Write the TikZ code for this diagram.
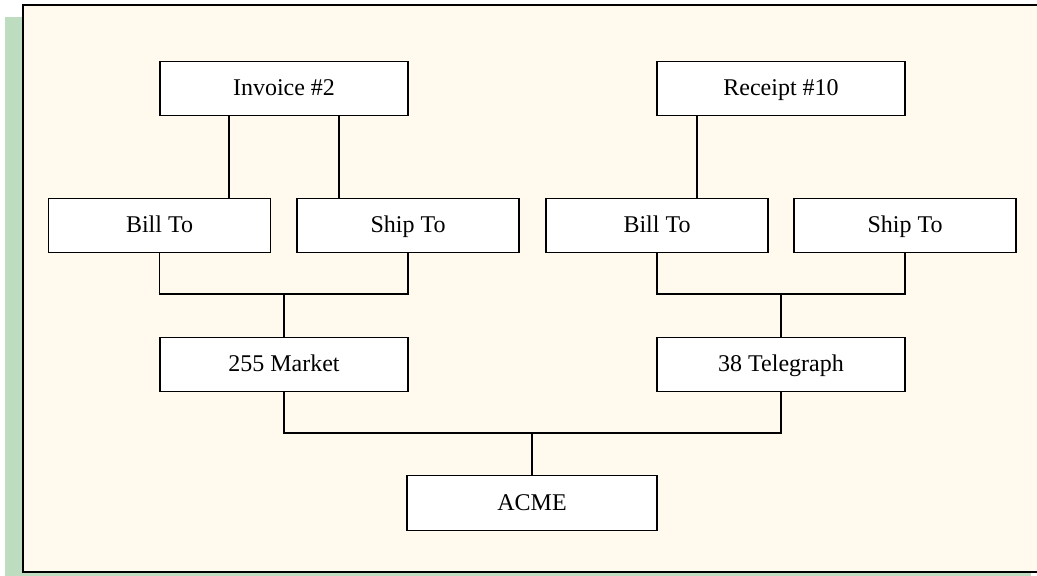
\documentclass[tikz,border=0pt]{standalone}
\usepackage{fontspec}
\setmainfont{Liberation Serif}
\usetikzlibrary{positioning,calc}
\definecolor{panelcream}{RGB}{255,249,238}
\definecolor{shadowgreen}{RGB}{189,220,192}
\tikzstyle{recbox} = [draw=black,line width=1.3pt,fill=white,minimum width=248pt,minimum height=54pt,inner sep=0pt,text height=18pt,text depth=4pt,font=\fontsize{24}{28}\selectfont]
\tikzstyle{link} = [line width=1.3pt]

\begin{document}
\begin{tikzpicture}[x=1pt,y=-1pt]
    \useasboundingbox (0,0) rectangle (1037,576);
    \fill [shadowgreen] (5,17) rectangle (1031,576);
    \fill [panelcream] (23,5) rectangle (1037,572);
    \draw [line width=2pt] (1040,5) -- (23,5) -- (23,572) -- (1040,572);

    \node [recbox] (inv) at (284,88.5) {Invoice \#2};
    \node [recbox] (rec) at (781,88.5) {Receipt \#10};
    \node [recbox,minimum width=222pt] (billA) at (159.5,225.5) {Bill To};
    \node [recbox,minimum width=222pt] (shipA) at (408,225.5) {Ship To};
    \node [recbox,minimum width=222pt] (billB) at (657,225.5) {Bill To};
    \node [recbox,minimum width=222pt] (shipB) at (905,225.5) {Ship To};
    \node [recbox] (mkt) at (284,364.5) {255 Market};
    \node [recbox] (tel) at (781,364.5) {38 Telegraph};
    \node [recbox,minimum width=250pt,minimum height=55pt] (acme) at (532,503) {ACME};

    \coordinate (jA) at (284,294);
    \coordinate (jB) at (781,294);
    \coordinate (jC) at (532,433);

    \draw [link] ([xshift=-55pt]inv.south) -- ([xshift=-55pt]inv.south |- billA.north);
    \draw [link] ([xshift=55pt]inv.south) -- ([xshift=55pt]inv.south |- shipA.north);
    \draw [link] ([xshift=-84pt]rec.south) -- ([xshift=-84pt]rec.south |- billB.north);

    \draw [link] (billA.south) |- (jA) -| (shipA.south);
    \draw [link] (jA) -- (mkt.north);
    \draw [link] (billB.south) |- (jB) -| (shipB.south);
    \draw [link] (jB) -- (tel.north);
    \draw [link] (mkt.south) |- (jC) -| (tel.south);
    \draw [link] (jC) -- (acme.north);
\end{tikzpicture}
\end{document}
